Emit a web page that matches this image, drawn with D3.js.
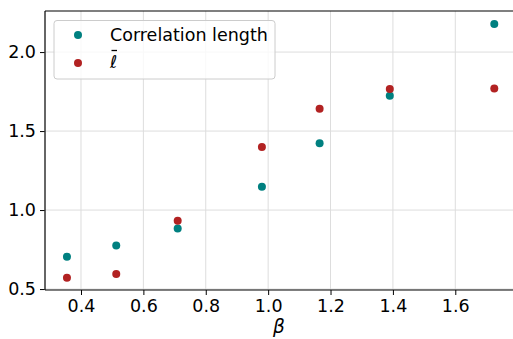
<!DOCTYPE html>
<html><head><meta charset="utf-8">
<script src="https://cdn.jsdelivr.net/npm/d3@7"></script>
<style>body{margin:0;background:#fff}svg{display:block}text{font-family:"DejaVu Sans",sans-serif}</style>
</head><body><svg id="c" width="513" height="339"></svg>
<script>
const betas = [0.355, 0.513, 0.71, 0.98, 1.165, 1.39, 1.725];
const corrLength = [0.705, 0.775, 0.883, 1.148, 1.423, 1.724, 2.178];
const ellBar = [0.572, 0.595, 0.932, 1.399, 1.642, 1.766, 1.769];
const xTicks = [0.4, 0.6, 0.8, 1.0, 1.2, 1.4, 1.6];
const yTicks = [0.5, 1.0, 1.5, 2.0];
const seriesNames = ["Correlation length", "ℓ"];
const colors = ["#008080", "#b22222"];

const svg = d3.select("#c");
const L = 45, R = 513, T = 11, B = 290;
const x = d3.scaleLinear().domain([0.2846, 1.785]).range([L, R]);
const y = d3.scaleLinear().domain([0.494, 2.26]).range([B, T]);

// grid
svg.append("g").selectAll("line").data(xTicks).join("line")
  .attr("x1", d => x(d)).attr("x2", d => x(d)).attr("y1", T).attr("y2", B)
  .attr("stroke", "#dddddd").attr("stroke-width", 1);
svg.append("g").selectAll("line").data(yTicks).join("line")
  .attr("x1", L).attr("x2", R).attr("y1", d => y(d)).attr("y2", d => y(d))
  .attr("stroke", "#dddddd").attr("stroke-width", 1);

// axes
const xAxis = d3.axisBottom(x).tickValues(xTicks).tickFormat(d3.format(".1f")).tickSize(5).tickPadding(5);
const yAxis = d3.axisLeft(y).tickValues(yTicks).tickFormat(d3.format(".1f")).tickSize(5).tickPadding(4);
const gx = svg.append("g").attr("transform", `translate(0,${B})`).call(xAxis);
const gy = svg.append("g").attr("transform", `translate(${L},0)`).call(yAxis);
[gx, gy].forEach(g => {
  g.select(".domain").remove();
  g.selectAll("text").attr("font-size", 17.5).attr("fill", "#000").attr("font-family", "DejaVu Sans");
  g.selectAll("line").attr("stroke", "#000");
});
// spines
svg.append("line").attr("x1", L).attr("x2", L).attr("y1", T).attr("y2", B).attr("stroke", "#333").attr("stroke-width", 1.5);
svg.append("line").attr("x1", L).attr("x2", R).attr("y1", B).attr("y2", B).attr("stroke", "#000").attr("stroke-width", 1.2);
svg.append("line").attr("x1", L).attr("x2", R).attr("y1", T).attr("y2", T).attr("stroke", "#000").attr("stroke-width", 1.2);

// points
const series = [corrLength, ellBar];
series.forEach((vals, i) => {
  svg.append("g").selectAll("circle").data(betas.map((b, j) => [b, vals[j]])).join("circle")
    .attr("cx", d => x(d[0])).attr("cy", d => y(d[1])).attr("r", 4).attr("fill", colors[i]);
});

// x label
svg.append("text").attr("x", (L + R) / 2).attr("y", 333).attr("text-anchor", "middle")
  .attr("font-size", 18.5).attr("font-style", "italic").text("β");

// legend
const lg = svg.append("g");
lg.append("rect").attr("x", 54).attr("y", 20.5).attr("width", 221).attr("height", 58.5).attr("rx", 3)
  .attr("fill", "#fff").attr("fill-opacity", 0.8).attr("stroke", "#cccccc").attr("stroke-width", 1);
const rowsY = [35, 63];
seriesNames.forEach((n, i) => {
  lg.append("circle").attr("cx", 78).attr("cy", rowsY[i]).attr("r", 4).attr("fill", colors[i]);
  const t = lg.append("text").attr("x", 110).attr("y", rowsY[i] + 6).attr("font-size", 17.5).attr("fill", "#000").text(n);
  if (i === 1) { t.attr("font-style", "italic").attr("y", rowsY[i] + 5); }
});
lg.append("line").attr("x1", 111.5).attr("x2", 117).attr("y1", 50.5).attr("y2", 50.5).attr("stroke", "#000").attr("stroke-width", 1.3);
</script></body></html>
